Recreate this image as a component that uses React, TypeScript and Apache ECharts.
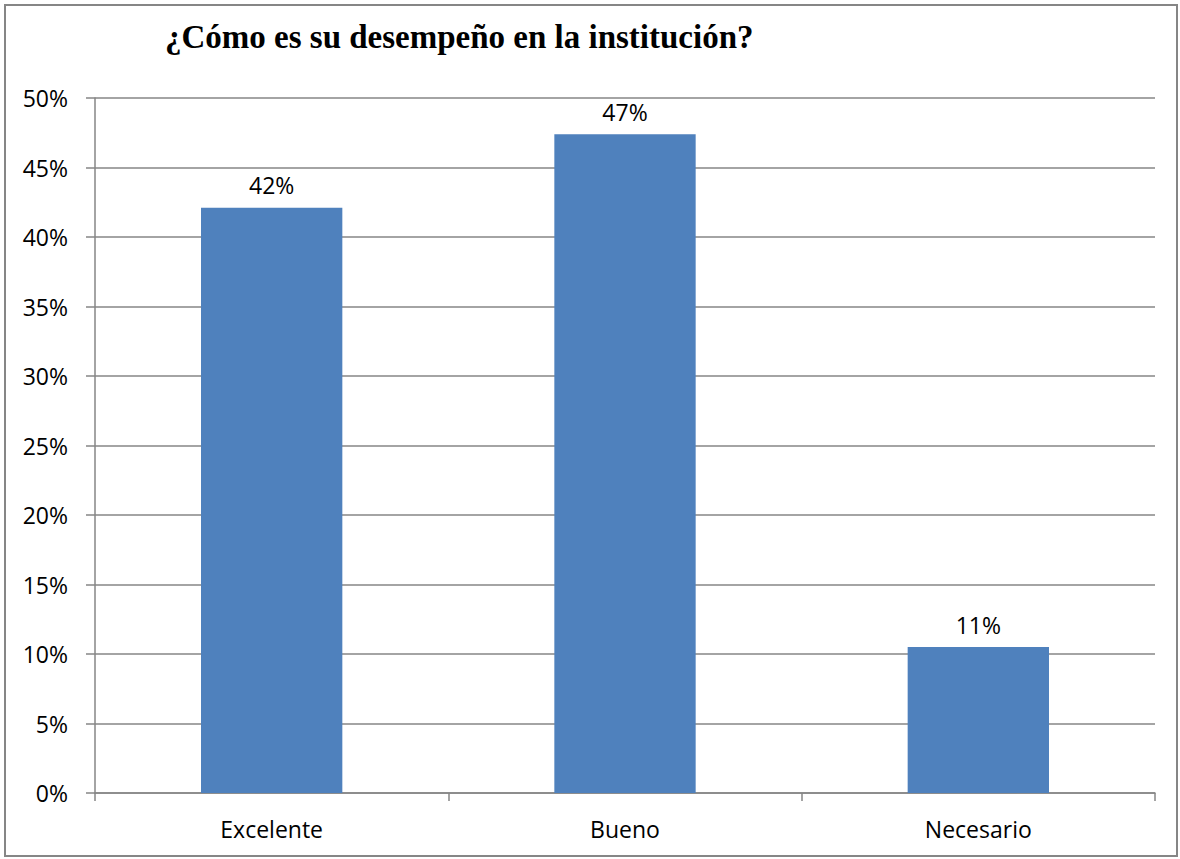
import React, { useEffect, useRef } from "react";
import * as echarts from "echarts";

const categories = ["Excelente", "Bueno", "Necesario"];
const values = [42.1, 47.4, 10.5];
const yTicks = [0, 5, 10, 15, 20, 25, 30, 35, 40, 45, 50];
const title = "¿Cómo es su desempeño en la institución?";

export default function App() {
  const ref = useRef<HTMLDivElement>(null);
  useEffect(() => {
    if (!ref.current) return;
    const chart = echarts.init(ref.current, null, { renderer: "svg" });
    const font = "'Open Sans', 'Liberation Sans', sans-serif";
    chart.setOption({
      animation: false,
      backgroundColor: "#ffffff",
      title: {
        text: title,
        left: 160,
        top: 15,
        textStyle: {
          fontFamily: "'Liberation Serif', 'DejaVu Serif', serif",
          fontWeight: "bold",
          fontSize: 33,
          color: "#000",
        },
      },
      graphic: [
        {
          type: "rect",
          shape: { x: 5, y: 5, width: 1172, height: 851 },
          style: { fill: "none", stroke: "#868686", lineWidth: 2 },
          silent: true,
        },
      ],
      grid: { left: 95, right: 25, top: 98, bottom: 66, containLabel: false },
      xAxis: {
        type: "category",
        data: categories,
        axisLine: { show: true, lineStyle: { color: "#868686", width: 1.5 } },
        axisTick: { show: true, length: 8, lineStyle: { color: "#868686", width: 1.5 } },
        axisLabel: { fontFamily: font, fontSize: 23, color: "#000", margin: 24 },
      },
      yAxis: {
        type: "value",
        min: yTicks[0],
        max: yTicks[yTicks.length - 1],
        interval: 5,
        axisLine: { show: true, lineStyle: { color: "#868686", width: 1.5 } },
        axisTick: { show: true, length: 9, lineStyle: { color: "#868686", width: 1.5 } },
        splitLine: { show: true, lineStyle: { color: "#868686", width: 1.5 } },
        axisLabel: {
          fontFamily: font,
          fontSize: 23,
          color: "#000",
          margin: 27,
          formatter: (v: number) => `${v}%`,
        },
      },
      series: [
        {
          type: "bar",
          data: values,
          barWidth: "40%",
          itemStyle: { color: "#4F81BD" },
          label: {
            show: true,
            position: "top",
            distance: 11,
            fontFamily: font,
            fontSize: 23,
            color: "#000",
            formatter: (p: any) => `${Math.round(p.value)}%`,
          },
        },
      ],
    });
    return () => chart.dispose();
  }, []);
  return (
    <div
      ref={ref}
      style={{ position: "fixed", left: 0, top: 0, width: 1180, height: 859 }}
    />
  );
}
